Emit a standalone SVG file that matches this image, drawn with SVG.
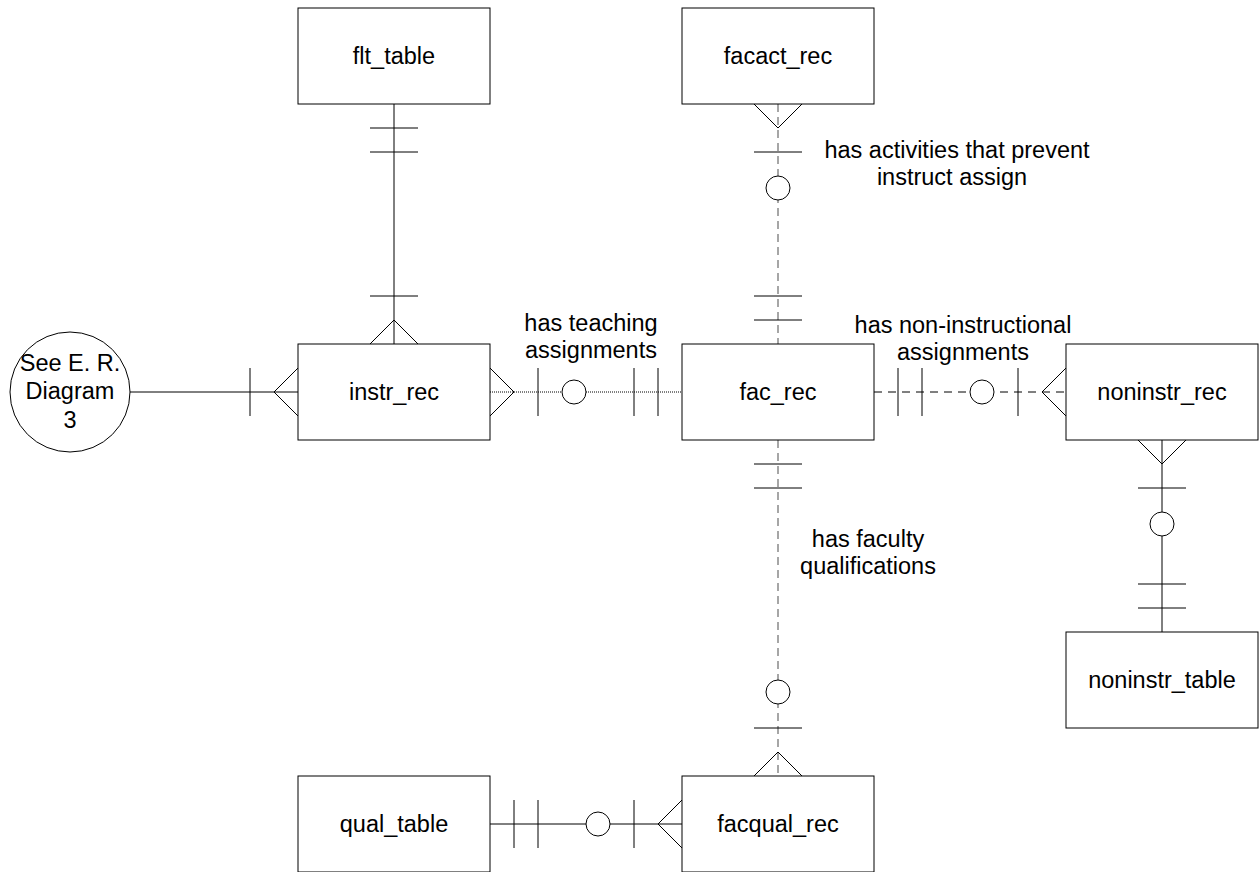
<svg xmlns="http://www.w3.org/2000/svg" width="1259" height="872" viewBox="0 0 1259 872">
<style>
.box{fill:#fff;stroke:#000;stroke-width:1}
.t{font-family:"Liberation Sans",Arial,sans-serif;font-size:23.5px;fill:#000;text-anchor:middle}
.ln{fill:none;stroke:#000;stroke-width:1}
.dash{fill:none;stroke:#777;stroke-width:1.3;stroke-dasharray:8,5}
.dash2{fill:none;stroke:#000;stroke-width:1;stroke-dasharray:8,6}
.dot{fill:none;stroke:#000;stroke-width:1;stroke-dasharray:1,1}
.o{fill:#fff;stroke:#000;stroke-width:1}
</style>
<rect width="1259" height="872" fill="#fff"/>
<g id="connectors">
  <!-- flt_table to instr_rec -->
  <line class="ln" x1="394" y1="104" x2="394" y2="344"/>
  <line class="ln" x1="370" y1="128" x2="418" y2="128"/>
  <line class="ln" x1="370" y1="152" x2="418" y2="152"/>
  <line class="ln" x1="370" y1="296" x2="418" y2="296"/>
  <polyline class="ln" points="370,344 394,320 418,344"/>
  <!-- circle to instr_rec -->
  <line class="ln" x1="130" y1="392" x2="298" y2="392"/>
  <line class="ln" x1="250" y1="368" x2="250" y2="416"/>
  <polyline class="ln" points="298,368 274,392 298,416"/>
  <!-- instr_rec to fac_rec -->
  <line class="dot" x1="490" y1="392" x2="682" y2="392"/>
  <polyline class="ln" points="490,368 514,392 490,416"/>
  <line class="ln" x1="538" y1="368" x2="538" y2="416"/>
  <circle class="o" cx="574" cy="392" r="12"/>
  <line class="ln" x1="634" y1="368" x2="634" y2="416"/>
  <line class="ln" x1="658" y1="368" x2="658" y2="416"/>
  <!-- fac_rec to noninstr_rec -->
  <line class="dash2" x1="874" y1="392" x2="1066" y2="392"/>
  <line class="ln" x1="898" y1="368" x2="898" y2="416"/>
  <line class="ln" x1="922" y1="368" x2="922" y2="416"/>
  <circle class="o" cx="982" cy="392" r="12"/>
  <line class="ln" x1="1018" y1="368" x2="1018" y2="416"/>
  <polyline class="ln" points="1066,368 1042,392 1066,416"/>
  <!-- facact_rec to fac_rec -->
  <line class="dash" x1="778" y1="104" x2="778" y2="344"/>
  <polyline class="ln" points="754,104 778,128 802,104"/>
  <line class="ln" x1="754" y1="152" x2="802" y2="152"/>
  <circle class="o" cx="778" cy="188" r="12"/>
  <line class="ln" x1="754" y1="296" x2="802" y2="296"/>
  <line class="ln" x1="754" y1="320" x2="802" y2="320"/>
  <!-- fac_rec to facqual_rec -->
  <line class="dash" x1="778" y1="440" x2="778" y2="776"/>
  <line class="ln" x1="754" y1="464" x2="802" y2="464"/>
  <line class="ln" x1="754" y1="488" x2="802" y2="488"/>
  <circle class="o" cx="778" cy="692" r="12"/>
  <line class="ln" x1="754" y1="728" x2="802" y2="728"/>
  <polyline class="ln" points="754,776 778,752 802,776"/>
  <!-- qual_table to facqual_rec -->
  <line class="ln" x1="490" y1="824" x2="682" y2="824"/>
  <line class="ln" x1="514" y1="800" x2="514" y2="848"/>
  <line class="ln" x1="538" y1="800" x2="538" y2="848"/>
  <circle class="o" cx="598" cy="824" r="12"/>
  <line class="ln" x1="634" y1="800" x2="634" y2="848"/>
  <polyline class="ln" points="682,800 658,824 682,848"/>
  <!-- noninstr_rec to noninstr_table -->
  <line class="ln" x1="1162" y1="440" x2="1162" y2="632"/>
  <polyline class="ln" points="1138,440 1162,464 1186,440"/>
  <line class="ln" x1="1138" y1="488" x2="1186" y2="488"/>
  <circle class="o" cx="1162" cy="524" r="12"/>
  <line class="ln" x1="1138" y1="584" x2="1186" y2="584"/>
  <line class="ln" x1="1138" y1="608" x2="1186" y2="608"/>
  <!-- labels -->
  <text class="t" x="591" y="331">has teaching</text>
  <text class="t" x="591" y="358">assignments</text>
  <text class="t" x="963" y="333">has non-instructional</text>
  <text class="t" x="963" y="360">assignments</text>
  <text class="t" x="957" y="158">has activities that prevent</text>
  <text class="t" x="952" y="185">instruct assign</text>
  <text class="t" x="868" y="547">has faculty</text>
  <text class="t" x="868" y="574">qualifications</text>
</g>
<g id="see_er">
  <circle class="box" cx="70" cy="392" r="60"/>
  <text class="t" x="70" y="371">See E. R.</text>
  <text class="t" x="70" y="399">Diagram</text>
  <text class="t" x="70" y="428">3</text>
</g>
<g id="flt_table"><rect class="box" x="298" y="8" width="192" height="96"/><text class="t" x="394" y="64">flt_table</text></g>
<g id="facact_rec"><rect class="box" x="682" y="8" width="192" height="96"/><text class="t" x="778" y="64">facact_rec</text></g>
<g id="instr_rec"><rect class="box" x="298" y="344" width="192" height="96"/><text class="t" x="394" y="400">instr_rec</text></g>
<g id="fac_rec"><rect class="box" x="682" y="344" width="192" height="96"/><text class="t" x="778" y="400">fac_rec</text></g>
<g id="noninstr_rec"><rect class="box" x="1066" y="344" width="192" height="96"/><text class="t" x="1162" y="400">noninstr_rec</text></g>
<g id="noninstr_table"><rect class="box" x="1066" y="632" width="192" height="96"/><text class="t" x="1162" y="688">noninstr_table</text></g>
<g id="qual_table"><rect class="box" x="298" y="776" width="192" height="96"/><text class="t" x="394" y="832">qual_table</text></g>
<g id="facqual_rec"><rect class="box" x="682" y="776" width="192" height="96"/><text class="t" x="778" y="832">facqual_rec</text></g>
</svg>
